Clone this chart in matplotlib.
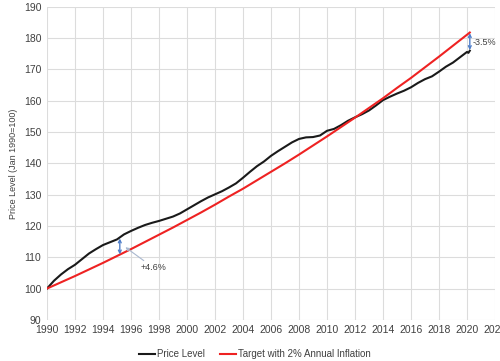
import matplotlib.pyplot as plt

# Price level (Jan 1990 = 100) at half-year steps
price_t = [1990.0, 1990.5, 1991.0, 1991.5, 1992.0, 1992.5, 1993.0, 1993.5,
           1994.0, 1994.5, 1995.0, 1995.5, 1996.0, 1996.5, 1997.0, 1997.5,
           1998.0, 1998.5, 1999.0, 1999.5, 2000.0, 2000.5, 2001.0, 2001.5,
           2002.0, 2002.5, 2003.0, 2003.5, 2004.0, 2004.5, 2005.0, 2005.5,
           2006.0, 2006.5, 2007.0, 2007.5, 2008.0, 2008.5, 2009.0, 2009.5,
           2010.0, 2010.5, 2011.0, 2011.5, 2012.0, 2012.5, 2013.0, 2013.5,
           2014.0, 2014.5, 2015.0, 2015.5, 2016.0, 2016.5, 2017.0, 2017.5,
           2018.0, 2018.5, 2019.0, 2019.5, 2020.0, 2020.1, 2020.2]
price = [100.0, 102.5, 104.5, 106.2, 107.6, 109.4, 111.2, 112.6,
         113.9, 114.8, 115.7, 117.3, 118.4, 119.4, 120.3, 121.0,
         121.6, 122.3, 123.0, 124.0, 125.3, 126.6, 127.9, 129.1,
         130.1, 131.1, 132.3, 133.6, 135.4, 137.3, 139.1, 140.6,
         142.4, 143.9, 145.3, 146.7, 147.8, 148.3, 148.4, 148.9,
         150.4, 151.0, 152.2, 153.6, 154.7, 155.7, 156.9, 158.5,
         160.2, 161.3, 162.3, 163.2, 164.3, 165.7, 166.9, 167.8,
         169.3, 170.9, 172.2, 173.9, 175.6, 175.3, 176.0]

# Target path with 2% annual inflation
target_t = [1990, 1991, 1992, 1993, 1994, 1995, 1996, 1997, 1998, 1999,
            2000, 2001, 2002, 2003, 2004, 2005, 2006, 2007, 2008, 2009,
            2010, 2011, 2012, 2013, 2014, 2015, 2016, 2017, 2018, 2019,
            2020, 2020.2]
target = [100.0, 102.0, 104.0, 106.1, 108.2, 110.4, 112.6, 114.9, 117.2, 119.5,
          121.9, 124.3, 126.8, 129.4, 131.9, 134.6, 137.3, 140.0, 142.8, 145.7,
          148.6, 151.6, 154.6, 157.7, 160.8, 164.1, 167.3, 170.7, 174.1, 177.6,
          181.1, 181.8]

plt.rcParams['font.family'] = ['Liberation Sans', 'DejaVu Sans']

fig = plt.figure(figsize=(5, 3.61), dpi=100)
ax = fig.add_axes([0.094, 0.114, 0.896, 0.867])

ax.plot(price_t, price, color='#1a1a1a', lw=1.5, label='Price Level', zorder=3)
ax.plot(target_t, target, color='#ee2222', lw=1.5,
        label='Target with 2% Annual Inflation', zorder=3)

ax.set_xlim(1990, 2022)
ax.set_ylim(90, 190)
ax.set_xticks(range(1990, 2023, 2))
ax.set_yticks(range(90, 191, 10))
ax.grid(True, color='#dcdcdc', lw=0.8)
for s in ax.spines.values():
    s.set_visible(False)
ax.tick_params(length=0, labelsize=7.5, colors='#404040', pad=4)
ax.set_ylabel('Price Level (Jan 1990=100)', fontsize=6.5, color='#404040')

# gap arrows
arrow_col = '#4f7ec9'
ax.annotate('', xy=(1995.2, 116.0), xytext=(1995.2, 110.9),
            arrowprops=dict(arrowstyle='<->', color=arrow_col, lw=1.0,
                            shrinkA=0, shrinkB=0, mutation_scale=5), zorder=4)
ax.annotate('+4.6%', xy=(1995.6, 113.2), xytext=(1996.7, 106.6),
            fontsize=6.5, color='#404040', va='center',
            arrowprops=dict(arrowstyle='-|>', color='#a9b8cf', lw=0.8,
                            mutation_scale=5, shrinkA=0, shrinkB=0))
ax.annotate('', xy=(2020.2, 181.6), xytext=(2020.2, 176.2),
            arrowprops=dict(arrowstyle='<->', color=arrow_col, lw=1.0,
                            shrinkA=0, shrinkB=0, mutation_scale=5), zorder=4)
ax.text(2020.4, 178.6, '-3.5%', fontsize=6.5, color='#404040', va='center')

ax.legend(loc='lower center', bbox_to_anchor=(0.51, -0.02), bbox_transform=fig.transFigure,
          ncol=2, frameon=False, fontsize=7, handlelength=1.6, handletextpad=0.2,
          columnspacing=1.6, labelcolor='#404040')

fig.savefig('out.png', dpi=100)
